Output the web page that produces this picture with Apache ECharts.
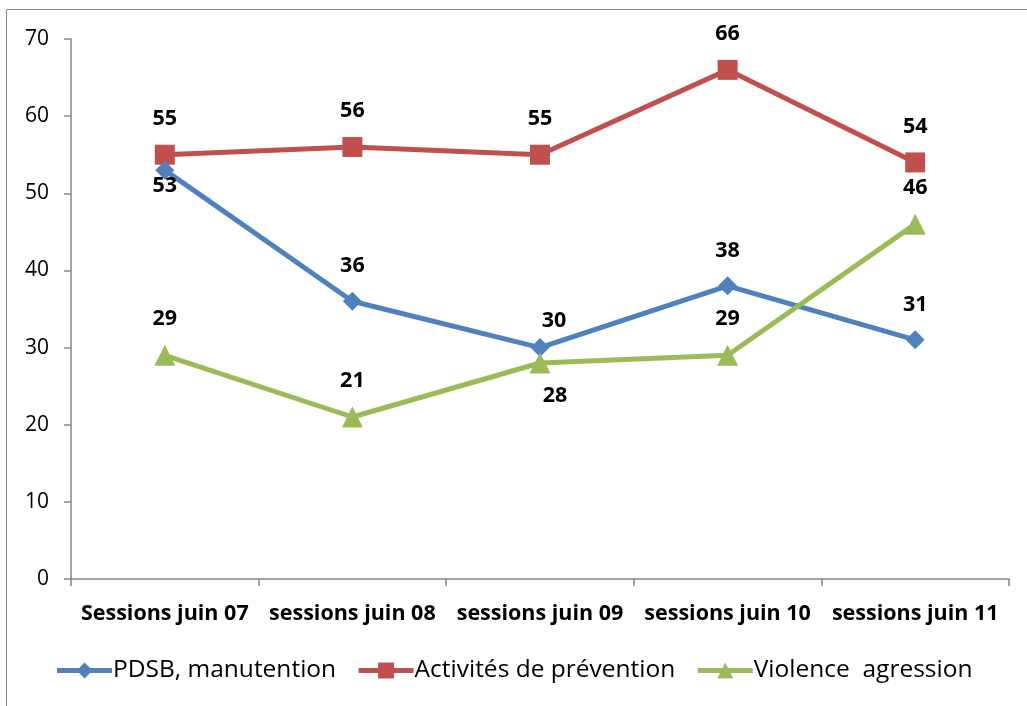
<!DOCTYPE html>
<html><head><meta charset="utf-8">
<script src="https://cdn.jsdelivr.net/npm/echarts@6/dist/echarts.min.js"></script>
<style>html,body{margin:0;padding:0;background:#fff}#c{width:1027px;height:706px}</style>
</head><body><div id="c"></div>
<script>
const categories = ['Sessions juin 07','sessions juin 08','sessions juin 09','sessions juin 10','sessions juin 11'];
const pdsb = [53, 36, 30, 38, 31];
const prevention = [55, 56, 55, 66, 54];
const violence = [29, 21, 28, 29, 46];
const seriesNames = ['PDSB, manutention', 'Activités de prévention', 'Violence  agression'];

// label placement (layout only)
const pdsbLabelPos = [[0, 16], [0, -35], [14, -27], [0, -35], [0, -35]];
const prevLabelPos = [[0, -36], [0, -36], [0, -36], [0, -36], [0, -36]];
const violLabelPos = [[0, -36], [0, -36], [15, 33], [0, -36], [0, -36]];

const font = '"Open Sans", sans-serif';
function mk(vals, pos) {
  return vals.map((v, i) => ({ value: v, label: { offset: pos[i] } }));
}
const labelStyle = { show: true, position: 'inside', fontFamily: font, fontWeight: 'bold', fontSize: 21.5, color: '#000' };

const chart = echarts.init(document.getElementById('c'));
chart.setOption({
  animation: false,
  textStyle: { fontFamily: font },
  graphic: [{ type: 'rect', shape: { x: 6.5, y: 9.5, width: 1040, height: 720 }, style: { fill: 'none', stroke: '#868686', lineWidth: 1 } }],
  grid: { left: 71, right: 18, top: 39, bottom: 127 },
  legend: {
    bottom: 18, left: 'center', itemWidth: 55, itemHeight: 20, itemGap: 20,
    lineStyle: { width: 5 },
    textStyle: { fontFamily: font, fontSize: 24.5, color: '#000', padding: [0, 0, 0, -4] },
    data: seriesNames
  },
  xAxis: {
    type: 'category', data: categories, boundaryGap: true,
    axisLine: { lineStyle: { color: '#868686', width: 1.5 } },
    axisTick: { show: true, length: 7, lineStyle: { color: '#868686', width: 1.5 } },
    axisLabel: { fontFamily: font, fontWeight: 'bold', fontSize: 21.5, color: '#000', margin: 24, interval: 0 }
  },
  yAxis: {
    type: 'value', min: 0, max: 70, interval: 10,
    axisLine: { show: true, lineStyle: { color: '#868686', width: 1.5 } },
    axisTick: { show: true, length: 7, lineStyle: { color: '#868686', width: 1.5 } },
    splitLine: { show: false },
    axisLabel: { fontFamily: font, fontSize: 21, color: '#000', margin: 22 }
  },
  series: [
    { name: seriesNames[0], type: 'line', data: mk(pdsb, pdsbLabelPos), symbol: 'diamond', symbolSize: 19,
      lineStyle: { color: '#4F81BD', width: 5 }, itemStyle: { color: '#4F81BD' }, label: labelStyle, z: 3 },
    { name: seriesNames[1], type: 'line', data: mk(prevention, prevLabelPos), symbol: 'rect', symbolSize: 20,
      lineStyle: { color: '#C0504D', width: 5 }, itemStyle: { color: '#C0504D' }, label: labelStyle, z: 2 },
    { name: seriesNames[2], type: 'line', data: mk(violence, violLabelPos), symbol: 'triangle', symbolSize: 21,
      lineStyle: { color: '#9BBB59', width: 5 }, itemStyle: { color: '#9BBB59' }, label: labelStyle, z: 4 }
  ]
});
</script></body></html>
